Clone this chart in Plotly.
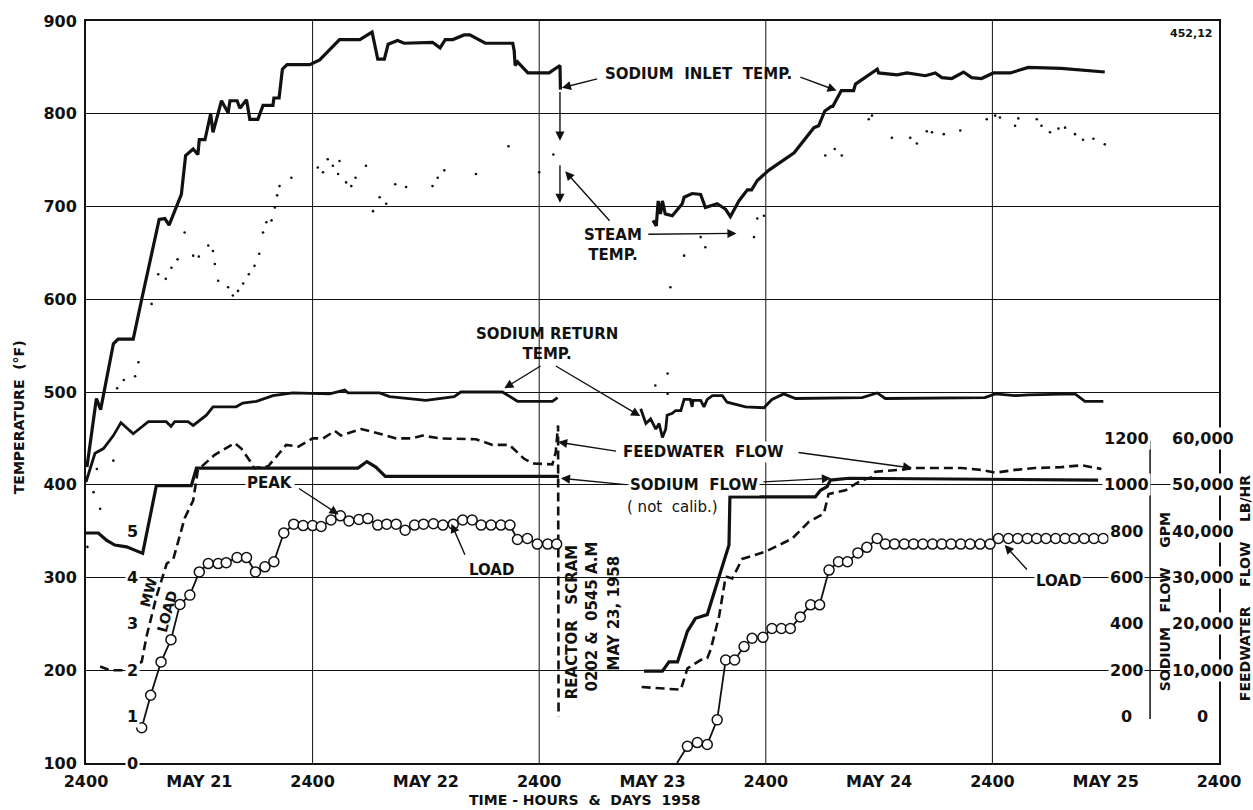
import plotly.graph_objects as go

# ---- time axis: hours after 2400 on May 20, 1958 ----
day_ticks = [0, 12, 24, 36, 48, 60, 72, 84, 96, 108, 120]
day_labels = ["2400", "MAY 21", "2400", "MAY 22", "2400", "MAY 23",
              "2400", "MAY 24", "2400", "MAY 25", "2400"]

# ---- sodium inlet temperature (deg F) ----
inlet_h_1 = [0.1, 1.1, 1.55, 2.9, 3.4, 5.0, 5.9, 7.75, 8.35, 8.8, 10.1, 10.55, 11.35, 11.85,
             12.0, 12.6, 13.2, 13.45, 14.35, 15.05, 15.25, 16.0, 16.3, 17.0, 17.35, 18.2,
             18.75, 19.8, 19.9, 20.45, 20.8, 21.3, 23.7, 24.75, 26.85, 29.0, 30.3, 30.9,
             31.6, 32.0, 33.0, 33.7, 36.7, 37.5, 38.05, 38.85, 40.05, 40.65, 42.3, 45.2,
             45.35, 45.45, 45.7, 46.8, 49.05, 50.2, 50.25]
inlet_t_1 = [419, 493, 481, 552, 557, 557, 600, 686, 687, 680, 713, 755, 762, 756,
             772, 772, 800, 780, 814, 801, 814, 814, 806, 815, 794, 794,
             809, 809, 817, 817, 848, 853, 853, 858, 880, 880, 888, 859,
             859, 875, 879, 876, 877, 871, 880, 880, 885, 885, 876, 876,
             868, 852, 856, 844, 844, 852, 826]
inlet_h_2 = [60.05, 60.4, 60.6, 60.85, 61.05, 61.35, 62.1, 63.15, 63.35, 64.2, 65.1, 65.6,
             66.85, 67.75, 68.25, 69.15, 70.05, 70.5, 71.1, 72.3, 75.0, 77.1, 77.6, 78.25,
             78.95, 79.1, 80.0, 81.3, 81.5, 83.8, 83.95, 85.9, 86.95, 88.9, 89.95, 90.65,
             91.7, 92.95, 93.8, 94.85, 96.1, 97.9, 99.8, 103.3, 107.9]
inlet_t_2 = [685, 679, 706, 692, 706, 692, 690, 703, 710, 714, 713, 699,
             703, 697, 689, 706, 718, 718, 728, 739, 758, 785, 787, 803,
             808, 808, 825, 825, 832, 848, 844, 842, 844, 841, 844, 839,
             838, 845, 839, 838, 844, 844, 850, 849, 845]

# ---- steam temperature (deg F), recorded as scattered points ----
steam_h = [0.15, 0.8, 1.15, 1.5, 2.9, 3.3, 4.0, 5.2, 5.55, 6.95, 7.65, 8.45, 9.05, 9.7,
           10.45, 11.35, 11.95, 12.95, 13.45, 13.65, 14.0, 15.05, 15.55, 16.1, 16.65,
           17.25, 17.85, 18.35, 18.75, 19.1, 19.65, 20.0, 20.25, 20.5, 21.75, 24.55,
           25.1, 25.6, 26.15, 26.7, 26.85, 27.55, 28.1, 28.55, 29.65, 30.4, 31.1, 31.8,
           32.75, 33.9, 36.7, 37.25, 37.95, 41.3, 44.75, 48.0, 49.5, 60.3, 61.6, 61.6,
           61.9, 63.35, 65.1, 65.6, 70.75, 71.1, 71.8, 78.3, 79.3, 80.05, 82.9, 83.25,
           85.35, 87.3, 88.0, 89.05, 89.6, 90.85, 92.6, 95.4, 96.3, 96.8, 98.4, 98.75,
           100.7, 101.2, 102.1, 103.0, 103.7, 104.75, 105.6, 106.7, 107.9]
steam_t = [333, 392, 417, 374, 426, 504, 513, 517, 532, 595, 627, 622, 634, 643,
           672, 647, 646, 658, 652, 638, 620, 613, 604, 609, 617,
           627, 636, 649, 672, 683, 685, 699, 712, 722, 731, 742,
           737, 751, 744, 735, 749, 726, 722, 731, 744, 695, 710, 703,
           724, 721, 722, 731, 739, 735, 765, 737, 756, 507, 520, 498,
           613, 647, 667, 656, 667, 687, 690, 755, 762, 755, 794, 798,
           774, 774, 768, 781, 780, 778, 782, 794, 798, 796, 787, 795,
           794, 787, 780, 784, 785, 778, 772, 773, 767]

# ---- sodium return temperature (deg F) ----
return_h_1 = [0, 0.95, 1.85, 2.9, 3.7, 4.65, 5.0, 6.6, 8.5, 9.0, 9.4, 10.8, 11.35, 12.75,
              13.45, 15.9, 16.6, 18.05, 19.8, 21.9, 25.8, 27.4, 27.75, 31.1, 32.15, 36.0,
              39.0, 39.7, 44.1, 45.7, 49.4, 49.95]
return_t_1 = [403, 434, 439, 453, 467, 459, 455, 468, 468, 463, 468, 468, 464, 475,
              484, 484, 488, 490, 496, 499, 498, 502, 499, 499, 495, 491,
              495, 500, 500, 490, 490, 494]
return_h_2 = [58.75, 59.3, 59.8, 60.35, 60.7, 61.05, 61.4, 61.55, 62.1, 62.45, 63.0, 63.35,
              64.0, 64.2, 64.3, 65.1, 65.45, 65.8, 66.35, 67.4, 67.9, 69.85, 71.8, 72.65,
              73.9, 75.15, 82.2, 83.8, 84.65, 95.2, 96.3, 98.4, 99.8, 104.75, 105.8, 107.75]
return_t_2 = [482, 466, 471, 460, 466, 451, 460, 475, 477, 480, 480, 492,
              492, 484, 491, 491, 484, 492, 496, 496, 489, 484, 483, 492,
              498, 493, 494, 499, 493, 494, 498, 496, 497, 498, 490, 490]

# ---- sodium flow (GPM, not calibrated) ----
naflow_h_1 = [0, 1.3, 2.2, 3.05, 4.3, 6.0, 7.45, 11.15, 11.7, 28.8, 29.75, 30.7, 31.7, 50.1]
naflow_gpm_1 = [792, 792, 760, 740, 732, 704, 996, 996, 1072, 1072, 1100, 1076, 1036, 1036]
naflow_h_2 = [59.1, 61.05, 61.75, 62.65, 63.7, 64.55, 65.8, 68.1, 68.2, 77.25, 77.8, 78.5,
              78.85, 80.8, 107.2]
naflow_gpm_2 = [196, 196, 236, 236, 368, 424, 440, 740, 948, 948, 976, 992,
                1020, 1028, 1020]

# ---- feedwater flow (lb/hr) ----
feed_h_1 = [1.5, 2.55, 3.4, 4.1, 5.2, 5.9, 6.4, 7.45, 8.55, 9.25, 10.45, 11.35, 11.85, 12.9,
            13.6, 14.6, 15.75, 16.45, 17.35, 17.8, 19.3, 20.15, 21.2, 22.5, 24.0, 25.1,
            26.35, 27.0, 29.15, 31.1, 32.85, 34.45, 35.65, 37.45, 41.3, 43.05, 44.85, 46.4,
            47.3, 49.4, 49.75, 50.0, 50.05]
feed_lb_1 = [10800, 10000, 10000, 10000, 11200, 11800, 17200, 25800, 33000, 34000, 42800,
             46600, 53200, 55200, 56400, 57600, 59000, 57800, 55200, 53600, 54000, 56000,
             58600, 58200, 60000, 60000, 61600, 60600, 62000, 61000, 60000, 60000, 60600,
             60000, 59800, 58600, 58600, 55600, 54600, 54400, 57000, 62800, 0]
feed_h_2 = [58.85, 63.0, 63.7, 65.1, 65.8, 66.15, 67.05, 67.75, 68.45, 69.5, 72.0, 74.8,
            76.55, 78.15, 78.65, 79.4, 80.45, 81.5, 82.2, 83.25, 83.6, 86.1, 87.65, 92.75,
            94.85, 96.3, 98.4, 100.5, 103.3, 105.45, 107.55]
feed_lb_2 = [6400, 5800, 10400, 12200, 12600, 14400, 21600, 30200, 29800, 34000, 35600,
             38400, 42000, 43800, 48000, 48400, 48800, 50200, 51000, 51600, 52800, 53200,
             53600, 53600, 53200, 52600, 53200, 53600, 53800, 54200, 53400]

# ---- electrical load (MW) ----
load_h_1 = [5.9, 6.85, 7.95, 9.0, 9.95, 11.0, 12.0, 12.95, 14.0, 14.85, 16.0, 17.0, 17.95,
            18.95, 19.9, 20.95, 22.0, 23.0, 24.0, 24.9, 25.95, 26.95, 27.85, 28.9, 29.85,
            30.9, 31.85, 32.85, 33.8, 34.8, 35.75, 36.8, 37.8, 38.9, 39.9, 40.9, 41.85,
            42.9, 43.95, 44.9, 45.7, 46.75, 47.8, 48.9, 49.85]
load_mw_1 = [0.76, 1.46, 2.18, 2.66, 3.42, 3.62, 4.12, 4.3, 4.3, 4.32, 4.43, 4.43, 4.12,
             4.23, 4.34, 4.96, 5.15, 5.12, 5.12, 5.1, 5.24, 5.33, 5.22, 5.25, 5.27,
             5.13, 5.15, 5.15, 5.02, 5.13, 5.15, 5.16, 5.13, 5.15, 5.24, 5.24, 5.13,
             5.13, 5.13, 5.13, 4.82, 4.84, 4.72, 4.72, 4.72]
load_h_2 = [62.6, 63.7, 64.75, 65.8, 66.85, 67.75, 68.7, 69.7, 70.55, 71.7, 72.65, 73.65,
            74.6, 75.65, 76.75, 77.7, 78.7, 79.7, 80.65, 81.75, 82.7, 83.8, 84.66, 85.64,
            86.67, 87.65, 88.64, 89.66, 90.65, 91.63, 92.65, 93.64, 94.7, 95.75, 96.64,
            97.7, 98.68, 99.7, 100.69, 101.68, 102.7, 103.69, 104.67, 105.73, 106.76,
            107.74]
load_mw_2 = [0.0, 0.36, 0.44, 0.4, 0.93, 2.22, 2.22, 2.51, 2.69, 2.71, 2.9, 2.9,
             2.9, 3.15, 3.41, 3.41, 4.16, 4.34, 4.34, 4.53, 4.65, 4.84, 4.72, 4.72,
             4.72, 4.72, 4.72, 4.72, 4.72, 4.72, 4.72, 4.72, 4.72, 4.72, 4.84,
             4.84, 4.84, 4.84, 4.84, 4.84, 4.84, 4.84, 4.84, 4.84, 4.84,
             4.84]

# ---- scale labels for the secondary readings ----
mw_ticks = [0, 1, 2, 3, 4, 5]
gpm_ticks = [0, 200, 400, 600, 800, 1000, 1200]
lbhr_ticks = [0, 10000, 20000, 30000, 40000, 50000, 60000]
lbhr_labels = ["0", "10,000", "20,000", "30,000", "40,000", "50,000", "60,000"]

FONT = "DejaVu Sans"
INK = "#111111"


def joined(h1, v1, h2, v2):
    """Join the records before and after the scram, leaving a gap between them."""
    return list(h1) + [None] + list(h2), list(v1) + [None] + list(v2)


fig = go.Figure()

x, y = joined(inlet_h_1, inlet_t_1, inlet_h_2, inlet_t_2)
fig.add_trace(go.Scatter(x=x, y=y, mode="lines", line=dict(color=INK, width=3.2),
                         name="Sodium inlet temp.", yaxis="y"))

x, y = joined(return_h_1, return_t_1, return_h_2, return_t_2)
fig.add_trace(go.Scatter(x=x, y=y, mode="lines", line=dict(color=INK, width=2.8),
                         name="Sodium return temp.", yaxis="y"))

fig.add_trace(go.Scatter(x=steam_h, y=steam_t, mode="markers",
                         marker=dict(color=INK, size=2.6, symbol="circle"),
                         name="Steam temp.", yaxis="y"))

x, y = joined(naflow_h_1, naflow_gpm_1, naflow_h_2, naflow_gpm_2)
fig.add_trace(go.Scatter(x=x, y=y, mode="lines", line=dict(color=INK, width=3.2),
                         name="Sodium flow", yaxis="y2"))

x, y = joined(feed_h_1, feed_lb_1, feed_h_2, feed_lb_2)
fig.add_trace(go.Scatter(x=x, y=y, mode="lines",
                         line=dict(color=INK, width=2.6, dash="9px,5px"),
                         name="Feedwater flow", yaxis="y3"))

x, y = joined(load_h_1, load_mw_1, load_h_2, load_mw_2)
sizes = [10] * len(load_h_1) + [0] + [0] + [10] * (len(load_h_2) - 1)
fig.add_trace(go.Scatter(x=x, y=y, mode="lines+markers",
                         line=dict(color=INK, width=1.8),
                         marker=dict(symbol="circle", size=sizes, color="#ffffff",
                                     opacity=1, line=dict(color=INK, width=1.5)),
                         name="Load", yaxis="y4"))

# vertical day gridlines (midnight of each day)
for d in [24, 48, 72, 96]:
    fig.add_shape(type="line", x0=d, x1=d, y0=0, y1=1, xref="x", yref="paper",
                  line=dict(color=INK, width=1), layer="below")

# short spine of the sodium-flow scale
fig.add_shape(type="line", x0=112.7, x1=112.7, y0=-10, y1=1190, xref="x", yref="y2",
              line=dict(color=INK, width=1.5))

ann = []


def text(s, x, y, yref="y", size=15, angle=0, xanchor="center", bg=None, xref="x",
         weight="bold"):
    d = dict(text=s, x=x, y=y, xref=xref, yref=yref, showarrow=False,
             font=dict(family=FONT, size=size, color=INK, weight=weight),
             textangle=angle, xanchor=xanchor, yanchor="middle")
    if bg:
        d["bgcolor"] = bg
    ann.append(d)


def arrow(x0, y0, x1, y1):
    ann.append(dict(text="", x=x1, y=y1, ax=x0, ay=y0, xref="x", yref="y",
                    axref="x", ayref="y", showarrow=True, arrowhead=2,
                    arrowsize=1.3, arrowwidth=1.4, arrowcolor=INK))


# curve labels
text("SODIUM  INLET  TEMP.", 64.9, 843)
arrow(54.3, 838, 50.4, 828)
arrow(75.5, 840, 79.5, 825)
arrow(50.2, 825, 50.2, 771)
arrow(50.2, 746, 50.2, 704)

text("STEAM<br>TEMP.", 55.8, 658)
arrow(55.6, 683, 50.75, 738)
arrow(59.4, 670, 68.9, 671)

text("SODIUM RETURN<br>TEMP.", 48.85, 552)
arrow(48.3, 529, 44.3, 504)
arrow(49.6, 529, 58.7, 474)

text("FEEDWATER  FLOW", 65.45, 435, bg="white")
arrow(56.3, 436, 50.0, 446)
arrow(75.3, 435, 87.5, 418)

text("SODIUM  FLOW", 64.4, 399.5, bg="white")
text("( not  calib.)", 62.1, 376, size=15, weight="normal")
arrow(57.3, 400, 50.3, 407)
arrow(71.6, 403, 78.9, 407)

text("PEAK", 19.45, 402, bg="white")
arrow(22.4, 397, 26.75, 368)

text("LOAD", 43.0, 308)
arrow(40.2, 323, 38.7, 358)
text("LOAD", 103.0, 296, bg="white")
arrow(99.8, 307, 97.3, 335)

# scram note
text("REACTOR   SCRAM", 51.5, 252, angle=-90)
text("0202 &  0545 A.M", 53.6, 258, angle=-90)
text("MAY 23, 1958", 55.9, 262, angle=-90)

# MW load scale on the left
for v in mw_ticks:
    text(str(v), 4.95, v, yref="y4", size=16, bg="white")
text("MW", 6.66, 284, angle=-75, size=14)
text("LOAD", 8.56, 263, angle=-75, size=14)

# sodium flow scale (GPM)
for v in gpm_ticks:
    text(str(v), 110.2, v, yref="y2", size=16, bg="white")
text("SODIUM   FLOW    GPM", 114.3, 494, yref="y2", angle=-90, size=14)

# feedwater flow scale (lb/hr)
for v, s in zip(lbhr_ticks, lbhr_labels):
    text(s, 118.3, v, yref="y3", size=16, bg="white")
text("FEEDWATER    FLOW    LB/HR", 1.0229, 27900, xref="paper", yref="y3",
     angle=-90, size=14)

text("452,12", 119.5, 886, size=11, xanchor="right")

# axis titles
text("TEMPERATURE  (°F)", -0.059, 473, xref="paper", angle=-90, size=14)
ann.append(dict(text="TIME - HOURS  &  DAYS  1958", x=52.8, y=0, xref="x",
                yref="paper", showarrow=False, yanchor="bottom", yshift=-46,
                borderpad=0,
                font=dict(family=FONT, size=14, color=INK, weight="bold")))

fig.update_layout(
    width=1253, height=810,
    margin=dict(l=86, r=32, t=20, b=47),
    paper_bgcolor="white", plot_bgcolor="white",
    showlegend=False,
    font=dict(family=FONT, color=INK),
    annotations=ann,
    xaxis=dict(range=[0, 120], tickvals=day_ticks, ticktext=day_labels,
               showgrid=False, zeroline=False, showline=True, mirror=True,
               linecolor=INK, linewidth=2, ticks="outside", ticklen=3,
               tickcolor="rgba(0,0,0,0)",
               tickfont=dict(size=16, family=FONT, weight="bold")),
    yaxis=dict(range=[100, 900], dtick=100, showgrid=True, gridcolor=INK, gridwidth=1,
               zeroline=False, showline=True, mirror=True, linecolor=INK, linewidth=2,
               ticks="outside", ticklen=4, tickcolor="rgba(0,0,0,0)",
               tickfont=dict(size=16, family=FONT, weight="bold")),
    yaxis2=dict(range=[-200, 3000], overlaying="y", visible=False),
    yaxis3=dict(range=[-10000, 150000], overlaying="y", visible=False),
    yaxis4=dict(range=[0, 16], overlaying="y", visible=False),
)

fig.write_html("out.html")
